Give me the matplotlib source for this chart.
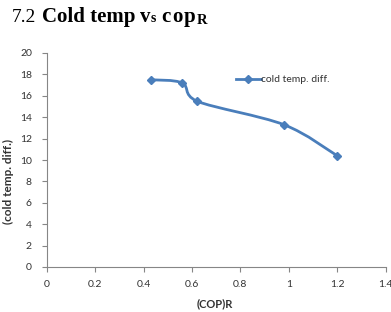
import matplotlib
matplotlib.use("Agg")
import matplotlib.pyplot as plt
import numpy as np
from matplotlib.path import Path
from matplotlib.patches import PathPatch

cop_r = [0.43, 0.56, 0.62, 0.98, 1.20]
cold_temp_diff = [17.5, 17.2, 15.5, 13.3, 10.4]
x_ticks = [0, 0.2, 0.4, 0.6, 0.8, 1, 1.2, 1.4]
x_tick_labels = ["0", "0.2", "0.4", "0.6", "0.8", "1", "1.2", "1.4"]
y_ticks = [0, 2, 4, 6, 8, 10, 12, 14, 16, 18, 20]
series_name = "cold temp. diff."

color = "#4a7ebb"
sans = ["Lato", "DejaVu Sans"]
fig = plt.figure(figsize=(3.91, 3.12), dpi=100)
ax = fig.add_axes([46.7/391, 45/312, (385.6-46.7)/391, (267-53)/312])

# smooth (Excel-like) curve through points via Bezier path
pts = np.column_stack([cop_r, cold_temp_diff])
verts = [tuple(pts[0])]
codes = [Path.MOVETO]
t = 1/6
for i in range(len(pts)-1):
    p0 = pts[i-1] if i > 0 else pts[i]
    p1 = pts[i]
    p2 = pts[i+1]
    p3 = pts[i+2] if i+2 < len(pts) else pts[i+1]
    c1 = p1 + (p2 - p0) * t
    c2 = p2 - (p3 - p1) * t
    lo, hi = p1[0], p2[0]
    c1[0] = min(max(c1[0], lo), hi)
    c2[0] = min(max(c2[0], lo), hi)
    verts += [tuple(c1), tuple(c2), tuple(p2)]
    codes += [Path.CURVE4]*3
ax.add_patch(PathPatch(Path(verts, codes), facecolor="none", edgecolor=color, lw=2))
ax.plot(cop_r, cold_temp_diff, linestyle="none", marker="D", ms=4.5, color=color)
ax.plot([], [], color=color, lw=2, marker="D", ms=4.5, label=series_name)

ax.set_xlim(0, 1.4)
ax.set_ylim(0, 20)
ax.set_xticks(x_ticks)
ax.set_xticklabels(x_tick_labels)
ax.set_yticks(y_ticks)
for s in ["top", "right"]:
    ax.spines[s].set_visible(False)
for s in ["left", "bottom"]:
    ax.spines[s].set_color("#868686")
    ax.spines[s].set_linewidth(0.8)
ax.tick_params(colors="#868686", labelcolor="#333333", labelsize=7.5, length=3.6, width=0.8)
ax.tick_params(axis="x", pad=6)
ax.tick_params(axis="y", pad=7)
for lab in ax.get_xticklabels() + ax.get_yticklabels():
    lab.set_family(sans)
ax.set_xlabel("(COP)R", fontsize=8, fontweight="bold", color="#333333", family=sans)
ax.xaxis.label.set_va("center")
ax.xaxis.set_label_coords((215-46.7)/338.9, -(304-267)/214)
ax.set_ylabel("(cold temp. diff.)", fontsize=8.5, fontweight="bold", color="#333333", family=sans)
ax.yaxis.label.set_va("center")
ax.yaxis.set_label_coords((8-46.7)/338.9, (267-182)/214)

leg = ax.legend(loc="center left", bbox_to_anchor=(0.545, 0.876), frameon=False,
                handlelength=2.4, handletextpad=0.0, borderaxespad=0, prop={"family": sans, "size": 7.5})
for t_ in leg.get_texts():
    t_.set_color("#333333")

# title pieces (text, size, weight, baseline shift px, left x px)
pieces = [("7.2", 14, "normal", 0, 12), ("Cold temp", 15, "bold", 0, 42),
          ("v", 15, "bold", 0, 140), ("s", 10, "bold", -0.5, 150.5),
          ("c", 15, "bold", 0, 161), ("o", 15, "bold", 0, 172), ("p", 15, "bold", 0, 183.5),
          ("R", 10.5, "bold", -1.5, 197)]
base_y = 312 - 22
for txt, size, weight, dy, xp in pieces:
    fig.text(xp/391, (base_y + dy)/312, txt, fontsize=size, fontweight=weight,
             family="Liberation Serif", va="baseline", ha="left")

fig.savefig("out.png", dpi=100)
